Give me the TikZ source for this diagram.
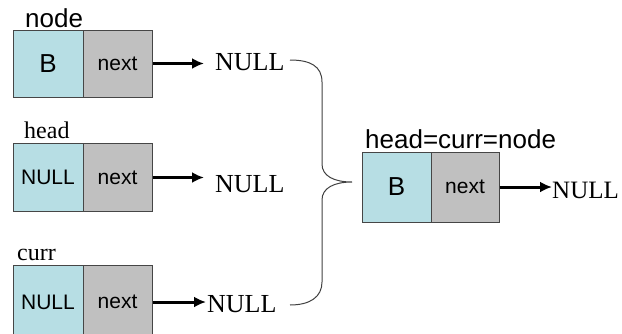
\documentclass[tikz,border=0pt]{standalone}
\usepackage{fontspec}
\setmainfont{Liberation Serif}
\setsansfont{Liberation Sans}
\usetikzlibrary{arrows.meta}
\definecolor{cellblue}{RGB}{183,222,228}
\definecolor{cellgray}{RGB}{192,192,192}
\definecolor{cellline}{RGB}{70,70,70}
\tikzset{
  cell/.style={draw=cellline, line width=1pt, inner sep=0pt, minimum height=68pt},
  valcell/.style={cell, fill=cellblue, minimum width=70pt},
  nextcell/.style={cell, fill=cellgray, minimum width=69pt, font=\sffamily\fontsize{21}{21}\selectfont},
  bigsans/.style={font=\sffamily\fontsize{26}{26}\selectfont},
  smallsans/.style={font=\sffamily\fontsize{21}{21}\selectfont},
  serifnull/.style={inner sep=0pt, anchor=base west, font=\fontsize{26}{26}\selectfont},
  seriflabel/.style={inner sep=0pt, anchor=base west, font=\fontsize{24}{24}\selectfont},
  sanslabel/.style={inner sep=0pt, anchor=base west, font=\sffamily\fontsize{26}{26}\selectfont},
  arr/.style={line width=3pt, -{Latex[length=12pt,width=11pt]}},
  brace/.style={draw=black!75, line width=1pt}
}
\begin{document}
\begin{tikzpicture}[x=1pt,y=-1pt]
\useasboundingbox (0,0) rectangle (622,333);
\clip (0,0) rectangle (622,333);
% row 1
\node[sanslabel] (lnode) at (25,27) {node};
\node[valcell, bigsans, minimum height=67pt] (a1) at (48,63.5) {B};
\node[nextcell, minimum height=67pt] (b1) at (117.5,63.5) {next};
\node[serifnull] (n1) at (215,70) {NULL};
\draw[arr, shorten >=11pt] (b1.east) -- (b1.east -| n1.west);
% row 2
\node[seriflabel] (lhead) at (24,138) {head};
\node[valcell, smallsans] (a2) at (48,177.5) {NULL};
\node[nextcell] (b2) at (117.5,177.5) {next};
\node[serifnull] (n2) at (215,192) {NULL};
\draw[arr, shorten >=11pt] (b2.east) -- (b2.east -| n2.west);
% row 3
\node[seriflabel] (lcurr) at (17,260) {curr};
\node[valcell, smallsans, minimum height=74pt] (a3) at (48,302) {NULL};
\node[nextcell, minimum height=74pt] (b3) at (117.5,302) {next};
\node[serifnull] (n3) at (207,312) {NULL};
\draw[arr, shorten >=1pt] (b3.east) -- (b3.east -| n3.west);
% brace
\coordinate (btop) at (290,60);
\coordinate (btip) at (352,182);
\coordinate (bbot) at (290,305);
\draw[brace] (btop) .. controls (310,60) and (322,66) .. (322,82)
  -- (322,164) .. controls (322,176) and (334,182) .. (btip)
  .. controls (334,182) and (322,188) .. (322,200)
  -- (322,282) .. controls (322,297) and (310,305) .. (bbot);
% result
\node[sanslabel] (lres) at (365,148) {head=curr=node};
\node[valcell, bigsans, minimum height=70pt, minimum width=69pt] (a4) at (396.5,187) {B};
\node[nextcell, minimum height=70pt, minimum width=68pt] (b4) at (465,187) {next};
\node[serifnull, font=\fontsize{25}{25}\selectfont] (n4) at (552,198) {NULL};
\draw[arr] (b4.east) -- (b4.east -| n4.west);
\end{tikzpicture}
\end{document}
